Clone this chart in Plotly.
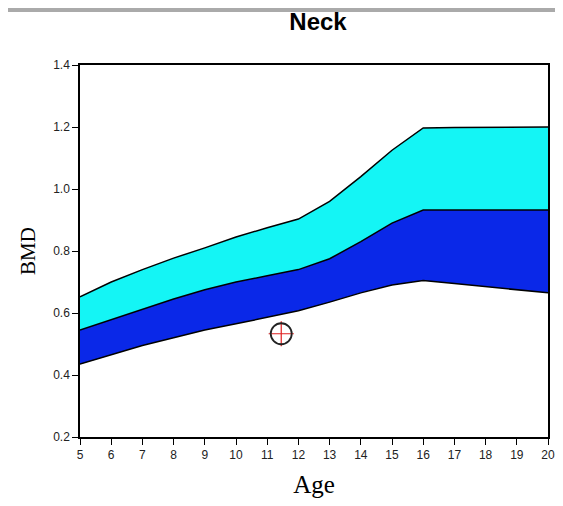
import plotly.graph_objects as go

ages = [5, 6, 7, 8, 9, 10, 11, 12, 13, 14, 15, 16, 17, 18, 19, 20]
upper = [0.652, 0.700, 0.740, 0.777, 0.810, 0.845, 0.875, 0.903, 0.960, 1.040, 1.125, 1.197, 1.198, 1.199, 1.200, 1.200]
middle = [0.545, 0.578, 0.610, 0.645, 0.675, 0.700, 0.720, 0.740, 0.775, 0.830, 0.890, 0.932, 0.932, 0.932, 0.932, 0.932]
lower = [0.435, 0.465, 0.495, 0.520, 0.545, 0.565, 0.585, 0.607, 0.635, 0.665, 0.690, 0.705, 0.695, 0.685, 0.675, 0.665]
patient_age = [11.45]
patient_bmd = [0.533]

x_ticks = list(range(5, 21))
y_ticks = [0.2, 0.4, 0.6, 0.8, 1.0, 1.2, 1.4]

fig = go.Figure()
fig.add_trace(go.Scatter(x=ages, y=lower, mode="lines",
                         line=dict(color="black", width=1.5), showlegend=False))
fig.add_trace(go.Scatter(x=ages, y=middle, mode="lines", fill="tonexty",
                         fillcolor="#0A28E8",
                         line=dict(color="black", width=1.5), showlegend=False))
fig.add_trace(go.Scatter(x=ages, y=upper, mode="lines", fill="tonexty",
                         fillcolor="#14F5F5",
                         line=dict(color="black", width=1.5), showlegend=False))
fig.add_trace(go.Scatter(x=patient_age, y=patient_bmd, mode="markers",
                         marker=dict(symbol="cross-thin-open", size=18, color="#E02020",
                                     line=dict(color="#E02020", width=1.2)),
                         showlegend=False))
fig.add_trace(go.Scatter(x=patient_age, y=patient_bmd, mode="markers",
                         marker=dict(symbol="circle-open", size=21, color="#222222",
                                     line=dict(color="#222222", width=1.8)),
                         showlegend=False))

fig.update_layout(
    width=547, height=490,
    margin=dict(l=72, r=7, t=57, b=61, autoexpand=False),
    paper_bgcolor="white", plot_bgcolor="white",
    title=dict(text="<b>Neck</b>", x=310 / 547, xanchor="center", y=1 - 14 / 490, yanchor="middle",
               font=dict(family="Liberation Sans, Arial, sans-serif", size=24, color="black")),
    xaxis=dict(range=[5, 20], tickvals=x_ticks, ticktext=[str(v) for v in x_ticks],
               automargin=True,
               ticks="outside", ticklen=6, tickwidth=1, tickcolor="black",
               showline=True, linecolor="black", linewidth=1.5, mirror=True,
               showgrid=False, zeroline=False,
               tickfont=dict(family="Liberation Sans, Arial, sans-serif", size=12, color="#222222"),
               title=dict(text="Age", standoff=21,
                          font=dict(family="Liberation Serif, Times New Roman, serif", size=25, color="black"))),
    yaxis=dict(range=[0.2, 1.4], tickvals=y_ticks, ticktext=["%.1f" % v for v in y_ticks],
               automargin=True,
               ticks="outside", ticklen=6, tickwidth=1, tickcolor="black",
               showline=True, linecolor="black", linewidth=1.5, mirror=True,
               showgrid=False, zeroline=False,
               tickfont=dict(family="Liberation Sans, Arial, sans-serif", size=12, color="#222222"),
               title=dict(text="BMD", standoff=12,
                          font=dict(family="Liberation Serif, Times New Roman, serif", size=21, color="black"))),
    shapes=[dict(type="line", xref="paper", yref="paper", x0=-0.2, x1=1.03,
                 y0=1.148, y1=1.148, line=dict(color="#AAAAAA", width=4))],
)

fig.write_html("out.html")
